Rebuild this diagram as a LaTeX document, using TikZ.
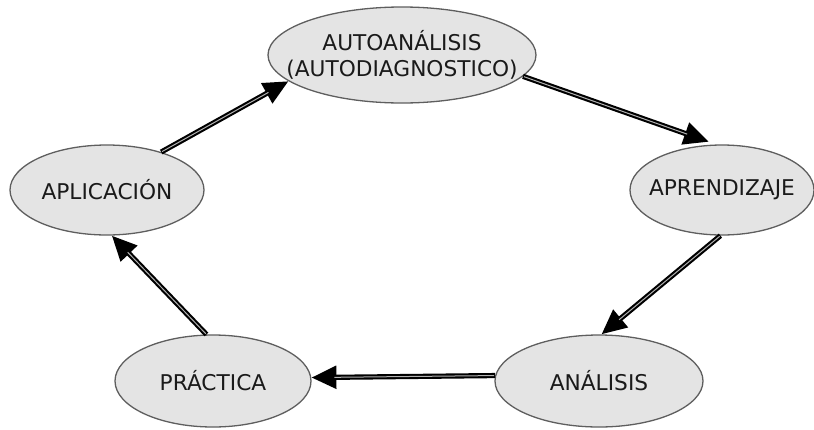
\documentclass[tikz,border=0pt]{standalone}
\usepackage{fontspec}
\setmainfont{DejaVu Sans}
\usetikzlibrary{arrows.meta,shapes.geometric}
\definecolor{ellfill}{HTML}{E4E4E4}
\definecolor{ellline}{HTML}{5E5E5E}
\definecolor{txt}{HTML}{1A1A1A}
\tikzset{
  bubble/.style={ellipse, draw=ellline, fill=ellfill, line width=1.3pt, inner xsep=-70pt, inner ysep=-30pt, text=txt,
    font=\fontsize{21.7}{26}\selectfont, align=center},
  arr/.style={draw=black, line width=5.2pt, -{Triangle[length=25pt,width=22pt]}},
  arrin/.style={draw=white!70!black, line width=1pt, shorten >=23pt, shorten <=1pt},
}
\begin{document}
\begin{tikzpicture}[x=1pt,y=-1pt]
\useasboundingbox (0,0) rectangle (814,429);
\node[bubble, minimum width=268pt, minimum height=96pt] (auto) at (402,55) {AUTOANÁLISIS\\(AUTODIAGNOSTICO)};
\node[bubble, minimum width=194pt, minimum height=90pt] (aplic) at (107,190) {APLICACIÓN};
\node[bubble, minimum width=184pt, minimum height=90pt] (aprend) at (722,190) {APRENDIZAJE};
\node[bubble, minimum width=196pt, minimum height=92pt] (pract) at (213,381) {PRÁCTICA};
\node[bubble, minimum width=208pt, minimum height=92pt] (anal) at (599,381) {ANÁLISIS};

\draw[arr] (aplic.35) -- (auto.193);
\draw[arrin] (aplic.35) -- (auto.193);
\draw[arr, shorten >=8pt] (auto.-10) -- (aprend.97);
\draw[arrin, shorten >=31pt] (auto.-10) -- (aprend.97);
\draw[arr] (aprend.-92) -- (anal.87);
\draw[arrin] (aprend.-92) -- (anal.87);
\draw[arr] (anal.177.8) -- (pract.2.3);
\draw[arrin] (anal.177.8) -- (pract.2.3);
\draw[arr] (pract.98) -- (aplic.-84);
\draw[arrin] (pract.98) -- (aplic.-84);
\end{tikzpicture}
\end{document}
